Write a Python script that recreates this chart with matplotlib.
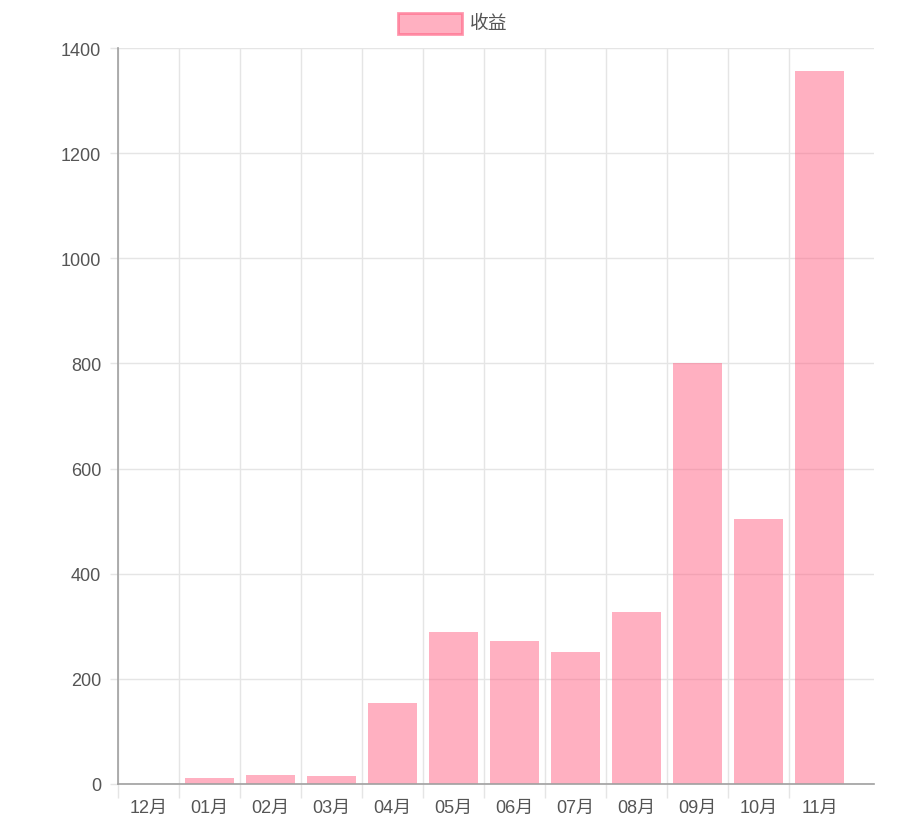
import numpy as np
import matplotlib
matplotlib.use('Agg')
import matplotlib.pyplot as plt
from matplotlib.patches import Rectangle

plt.rcParams['font.family'] = ['Liberation Sans', 'Noto Sans CJK SC', 'DejaVu Sans']

months = ['12月', '01月', '02月', '03月', '04月', '05月', '06月', '07月', '08月', '09月', '10月', '11月']
income = [0, 11, 17, 15, 154, 289, 272, 251, 327, 800, 504, 1356]
series_name = '收益'

fill = (1.0, 99/255, 132/255, 0.5)
edge = (1.0, 99/255, 132/255, 0.65)
grid_c = '#e5e5e5'
text_c = '#555555'

fig = plt.figure(figsize=(9.2, 8.28), dpi=100)
ax = fig.add_axes([118/920, 43/828, (874-118)/920, (785-49)/828])

x = np.arange(len(months))
ax.bar(x, income, width=0.79, color=fill, edgecolor='none', zorder=2)

# the category axis in the original stops short of the right end
ax.set_xlim(-0.5, (874 - 118) / 61 - 0.5)
ax.set_ylim(0, 1400)
ax.set_yticks(np.arange(0, 1401, 200))

# category boundaries carry the grid, centers carry the labels
ax.set_xticks(np.arange(-0.5, len(months) - 1))
ax.set_xticklabels([])
ax.set_xticks(x, minor=True)
ax.set_xticklabels(months, minor=True)
ax.tick_params(axis='x', which='major', length=10, color=grid_c, width=1)
ax.tick_params(axis='x', which='minor', length=0, pad=11, labelsize=13, labelcolor=text_c)
ax.tick_params(axis='y', length=6, color=grid_c, width=1, pad=6, labelsize=13, labelcolor=text_c)

ax.grid(True, which='major', color=grid_c, linewidth=1, zorder=0)
ax.set_axisbelow(True)
for s in ['top', 'right']:
    ax.spines[s].set_visible(False)
for s in ['left', 'bottom']:
    ax.spines[s].set_color('#a0a0a0')
    ax.spines[s].set_linewidth(1.2)

# legend at top center
fig.patches.append(Rectangle((398/920, 1 - 35/828), 64/920, 21/828, transform=fig.transFigure,
                             facecolor=fill, edgecolor=edge, linewidth=2))
fig.text(470/920, 1 - 24/828, series_name, fontsize=13.5, color=text_c, va='center', ha='left')

fig.savefig('out.png', dpi=100)
